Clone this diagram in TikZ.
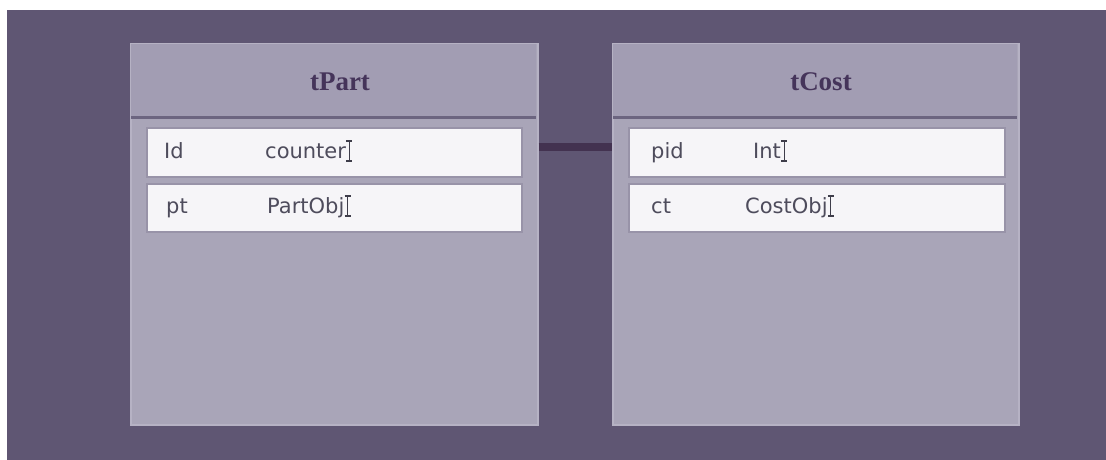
\documentclass[tikz,border=0pt]{standalone}
\usepackage{fontspec}
\setmainfont{DejaVu Sans}
\newfontfamily\headfont{Liberation Serif}
\definecolor{canvas}{HTML}{5F5673}
\definecolor{panel}{HTML}{A9A5B8}
\definecolor{headfill}{HTML}{A29DB3}
\definecolor{panelrim}{HTML}{B6B2C4}
\definecolor{headrule}{HTML}{6C6580}
\definecolor{rowfill}{HTML}{F6F5F8}
\definecolor{rowrim}{HTML}{9893A8}
\definecolor{fieldtext}{HTML}{4E4C5C}
\definecolor{titletext}{HTML}{45345A}
\definecolor{linkcolor}{HTML}{433250}
\tikzset{
  tablebox/.style={draw=panelrim, line width=1.5pt, fill=panel},
  headbox/.style={fill=headfill},
  rowbox/.style={draw=rowrim, line width=2pt, fill=rowfill},
  tabletitle/.style={font=\headfont\bfseries\fontsize{27}{30}\selectfont, text=titletext, inner sep=0pt, anchor=base},
  fieldname/.style={font=\fontsize{21}{24}\selectfont, text=fieldtext, anchor=base west, inner sep=0pt},
  ibeam/.style={draw=fieldtext!80!black, line width=1.2pt},
  link/.style={draw=linkcolor, line width=8pt}
}
\newcommand{\caretmark}[1]{%
  \draw[ibeam] ([xshift=3pt,yshift=17pt]#1.base east) -- ([xshift=3pt,yshift=-3pt]#1.base east);
  \draw[ibeam] ([xshift=0pt,yshift=17pt]#1.base east) -- ([xshift=6pt,yshift=17pt]#1.base east);
  \draw[ibeam] ([xshift=0pt,yshift=-3pt]#1.base east) -- ([xshift=6pt,yshift=-3pt]#1.base east);}
\begin{document}
\begin{tikzpicture}[x=1pt,y=-1pt]
  \useasboundingbox (0,0) rectangle (1106,460);
  \fill[white] (0,0) rectangle (1106,460);
  % background canvas
  \fill[canvas] (7,10) rectangle (1106,460);

  % table tPart
  \node[tablebox, minimum width=407pt, minimum height=381pt, anchor=north west, inner sep=0pt] (tpart) at (130,43) {};
  \fill[headfill] (131,44) rectangle (536,116);
  \draw[headrule, line width=3pt] (131,117) -- (536,117);
  \node[tabletitle] (tparttitle) at (340,90) {tPart};
  \node[rowbox, minimum width=375pt, minimum height=49pt, anchor=north west, inner sep=0pt] (tpartrowa) at (146,127) {};
  \node[rowbox, minimum width=375pt, minimum height=48pt, anchor=north west, inner sep=0pt] (tpartrowb) at (146,183) {};
  \node[fieldname] (tpartida) at (164,158) {Id};
  \node[fieldname] (tparttypa) at (265,158) {counter};
  \node[fieldname] (tpartidb) at (166,213) {pt};
  \node[fieldname] (tparttypb) at (267,213) {PartObj};
  \caretmark{tparttypa}
  \caretmark{tparttypb}

  % table tCost
  \node[tablebox, minimum width=406pt, minimum height=381pt, anchor=north west, inner sep=0pt] (tcost) at (612,43) {};
  \fill[headfill] (613,44) rectangle (1017,116);
  \draw[headrule, line width=3pt] (613,117) -- (1017,117);
  \node[tabletitle] (tcosttitle) at (821,90) {tCost};
  \node[rowbox, minimum width=376pt, minimum height=49pt, anchor=north west, inner sep=0pt] (tcostrowa) at (628,127) {};
  \node[rowbox, minimum width=376pt, minimum height=48pt, anchor=north west, inner sep=0pt] (tcostrowb) at (628,183) {};
  \node[fieldname] (tcostida) at (651,158) {pid};
  \node[fieldname] (tcosttypa) at (753,158) {Int};
  \node[fieldname] (tcostidb) at (651,213) {ct};
  \node[fieldname] (tcosttypb) at (745,213) {CostObj};
  \caretmark{tcosttypa}
  \caretmark{tcosttypb}

  % relation between the key rows
  \coordinate (linkstart) at (tpart.east |- 0,147);
  \coordinate (linkend) at (tcost.west |- 0,147);
  \draw[link] (linkstart) -- (linkend);
\end{tikzpicture}
\end{document}
